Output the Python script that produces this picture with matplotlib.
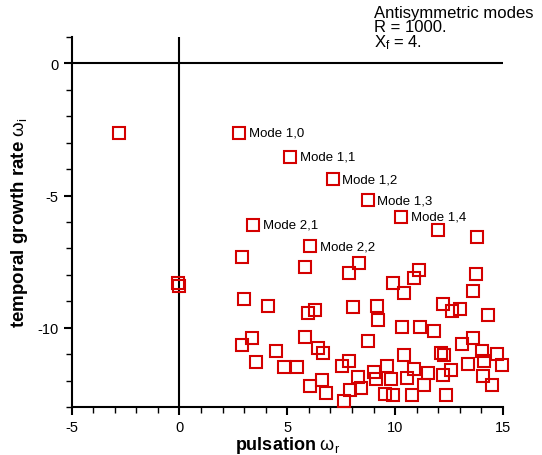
"""
Temporal spectrum of antisymmetric modes: growth rate vs pulsation.

Output:
    out.png
"""

import matplotlib
matplotlib.use("Agg")
import matplotlib.pyplot as plt
from matplotlib.ticker import MultipleLocator

plt.rcParams["font.family"] = ["Liberation Sans", "DejaVu Sans"]
plt.rcParams["mathtext.fontset"] = "custom"
plt.rcParams["mathtext.rm"] = "Liberation Sans"
plt.rcParams["mathtext.it"] = "Liberation Sans"
plt.rcParams["mathtext.bf"] = "Liberation Sans:bold"
plt.rcParams["axes.unicode_minus"] = False

# labelled modes
mode_names = ["Mode 1,0", "Mode 1,1", "Mode 1,2", "Mode 1,3", "Mode 1,4", "Mode 2,1", "Mode 2,2"]
mode_wr = [2.78, 5.14, 7.10, 8.72, 10.29, 3.41, 6.07]
mode_wi = [-2.62, -3.53, -4.39, -5.18, -5.81, -6.11, -6.92]

# remaining eigenvalues
other_wr = [
    -2.79, -0.05, 0.0, 11.97, 13.80, 2.89,
    5.83, 8.34, 7.84, 11.13, 10.88, 13.73, 9.90, 10.41, 13.61,
    12.21, 12.65, 12.99, 14.29, 8.06, 9.16, 9.21, 6.28, 5.94,
    2.99, 4.12,
    5.82, 6.44, 6.64, 8.74, 10.30, 11.14, 11.82, 13.10, 13.63, 14.03,
    14.14, 14.70, 14.95, 13.40, 12.12, 12.27, 10.40, 9.62, 10.86, 11.53,
    12.59, 12.21, 14.07, 14.47, 11.32, 10.80, 12.38, 10.53, 9.82, 9.88,
    9.51, 9.02, 9.11, 8.28, 8.43, 7.91, 7.65, 7.84, 7.54, 6.62,
    6.07, 6.81, 5.46, 4.83,
    3.37, 2.91, 4.47, 3.53,
]
other_wi = [
    -2.62, -8.30, -8.42, -6.29, -6.57, -7.31,
    -7.72, -7.54, -7.93, -7.80, -8.12, -7.95, -8.31, -8.67, -8.60,
    -9.09, -9.35, -9.30, -9.50, -9.22, -9.16, -9.69, -9.31, -9.44,
    -8.90, -9.18,
    -10.33, -10.77, -10.96, -10.49, -9.98, -9.98, -10.14, -10.63, -10.38, -10.88,
    -11.24, -11.01, -11.39, -11.36, -10.96, -11.02, -11.04, -11.44, -11.56, -11.70,
    -11.60, -11.80, -11.83, -12.17, -12.15, -12.55, -12.54, -11.91, -11.95, -12.53,
    -12.50, -11.69, -11.94, -11.86, -12.27, -12.34, -12.75, -11.26, -11.45, -11.98,
    -12.22, -12.48, -11.47, -11.47,
    -10.38, -10.66, -10.89, -11.28,
]

RED = "#d40000"


def main():
    fig = plt.figure(figsize=(5.42, 4.56), dpi=100)
    ax = fig.add_axes([0.132, 0.105, 0.796, 0.812])

    ax.set_xlim(-5, 15)
    ax.set_ylim(-13, 1)

    ax.axhline(0, color="black", lw=1.5, zorder=1)
    ax.axvline(0, color="black", lw=1.5, zorder=1)

    marker_style = dict(ls="none", marker="s", ms=8, mfc="none", mec=RED, mew=1.5,
                        zorder=3, clip_on=False)
    ax.plot(other_wr, other_wi, **marker_style)
    ax.plot(mode_wr, mode_wi, **marker_style)

    for name, x, y in zip(mode_names, mode_wr, mode_wi):
        ax.annotate(name, (x, y), xytext=(7, 0), textcoords="offset points",
                    va="center", ha="left", fontsize=9.5)

    for side in ["top", "right"]:
        ax.spines[side].set_visible(False)
    for side in ["left", "bottom"]:
        ax.spines[side].set_linewidth(1.5)

    ax.xaxis.set_major_locator(MultipleLocator(5))
    ax.xaxis.set_minor_locator(MultipleLocator(1))
    ax.yaxis.set_major_locator(MultipleLocator(5))
    ax.yaxis.set_minor_locator(MultipleLocator(1))
    ax.tick_params(which="major", length=6, width=1.5, labelsize=10.5, direction="out")
    ax.tick_params(which="minor", length=4, width=1.0, direction="out")

    ax.set_xlabel(r"pulsation $\omega_\mathrm{r}$", fontsize=13, fontweight="bold", labelpad=0)
    ax.set_ylabel(r"temporal growth rate $\omega_\mathrm{i}$", fontsize=13.5, fontweight="bold", labelpad=5)

    fig.text(0.69, 0.986, "Antisymmetric modes\nR = 1000.\n$X_f$ = 4.",
             ha="left", va="top", fontsize=12, linespacing=0.9)

    fig.savefig("out.png", dpi=100)
    plt.close(fig)


if __name__ == "__main__":
    main()
